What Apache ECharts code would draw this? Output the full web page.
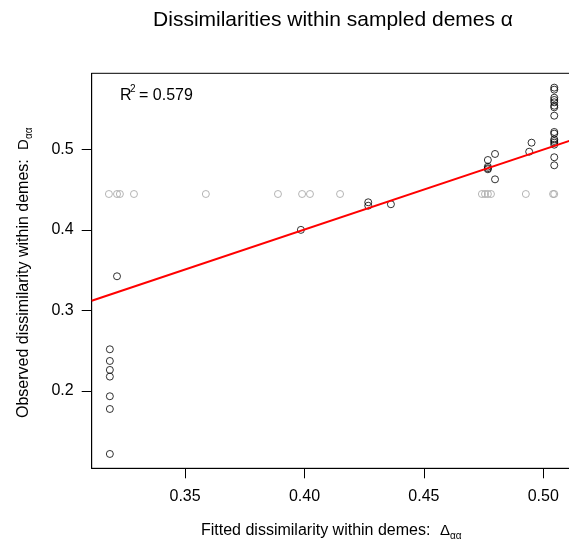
<!DOCTYPE html>
<html>
<head>
<meta charset="utf-8">
<script src="https://cdn.jsdelivr.net/npm/echarts@6/dist/echarts.min.js"></script>
<style>html,body{margin:0;padding:0;background:#fff}#c{width:569px;height:545px}</style>
</head>
<body>
<div id="c"></div>
<script>
// Data
var grayX = [0.3181, 0.3215, 0.3227, 0.3286, 0.3587, 0.3889, 0.3990, 0.4023, 0.4149, 0.4743, 0.4756, 0.4768, 0.4781, 0.4927, 0.5041, 0.5046];
var grayY = [0.4445, 0.4445, 0.4445, 0.4445, 0.4445, 0.4445, 0.4445, 0.4445, 0.4445, 0.4445, 0.4445, 0.4445, 0.4445, 0.4445, 0.4445, 0.4445];
var blackX = [0.3185, 0.3185, 0.3185, 0.3185, 0.3185, 0.3185, 0.3185,
              0.3215, 0.3985, 0.4267, 0.4267, 0.4362,
              0.4768, 0.4768, 0.4768, 0.4768, 0.4798, 0.4798,
              0.4941, 0.4951,
              0.5046, 0.5046, 0.5046, 0.5046, 0.5046, 0.5046, 0.5046, 0.5046,
              0.5046, 0.5046, 0.5046, 0.5046, 0.5046, 0.5046, 0.5046, 0.5046];
var blackY = [0.2518, 0.2373, 0.2262, 0.2179, 0.1935, 0.1777, 0.1219,
              0.3424, 0.4000, 0.4342, 0.4300, 0.4318,
              0.4867, 0.4784, 0.4765, 0.4752, 0.4942, 0.4627,
              0.4970, 0.5082,
              0.5765, 0.5740, 0.5640, 0.5612, 0.5583, 0.5541, 0.5521, 0.5417,
              0.5215, 0.5194, 0.5124, 0.5103, 0.5082, 0.5057, 0.4901, 0.4801];
// Fitted regression line endpoints (R^2 = 0.579)
var fitX = [0.3109, 0.5135];
var fitY = [0.3121, 0.5129];
var xTicks = [0.35, 0.40, 0.45, 0.50];
var yTicks = [0.2, 0.3, 0.4, 0.5];
var r2Text = '0.579';

function pairs(xs, ys) { return xs.map(function (x, i) { return [x, ys[i]]; }); }

var FONT = '"Liberation Sans", Arial, Helvetica, sans-serif';
var chart = echarts.init(document.getElementById('c'));
chart.setOption({
  animation: false,
  backgroundColor: '#fff',
  textStyle: { fontFamily: FONT },
  grid: { left: 91.7, top: 73.3, right: -6.5, bottom: 76.7, show: true, borderColor: '#000', borderWidth: 1,
          containLabel: false, outerBoundsMode: 'none' },
  xAxis: {
    type: 'value', min: 0.3109, max: 0.5135,
    axisLine: { show: true, lineStyle: { color: '#000', width: 1 } },
    axisTick: { show: true, inside: false, length: 10, customValues: xTicks, lineStyle: { color: '#000' } },
    axisLabel: { customValues: xTicks, margin: 20, color: '#000', fontSize: 16, fontFamily: FONT, formatter: function (v) { return v.toFixed(2); } },
    splitLine: { show: false }
  },
  yAxis: {
    type: 'value', min: 0.1041, max: 0.5943,
    axisLine: { show: true, lineStyle: { color: '#000', width: 1 } },
    axisTick: { show: true, inside: false, length: 10, customValues: yTicks, lineStyle: { color: '#000' } },
    axisLabel: { customValues: yTicks, margin: 18, color: '#000', fontSize: 16, fontFamily: FONT, formatter: function (v) { return v.toFixed(1); } },
    splitLine: { show: false }
  },
  series: [
    { type: 'scatter', data: pairs(grayX, grayY), symbol: 'circle', symbolSize: 7,
      itemStyle: { color: 'rgba(0,0,0,0)', borderColor: '#a3a3a3', borderWidth: 1 }, z: 2 },
    { type: 'scatter', data: pairs(blackX, blackY), symbol: 'circle', symbolSize: 7,
      itemStyle: { color: 'rgba(0,0,0,0)', borderColor: '#000', borderWidth: 1 }, z: 3 },
    { type: 'line', data: pairs(fitX, fitY), showSymbol: false, symbol: 'none', clip: true,
      lineStyle: { color: '#ff0000', width: 2 }, z: 4 }
  ],
  graphic: [
    { type: 'text', x: 333, y: 20,
      style: { text: 'Dissimilarities within sampled demes α', font: '21px ' + FONT, fill: '#000', textAlign: 'center', textVerticalAlign: 'middle' } },
    { type: 'text', x: 120, y: 96, style: { text: 'R', font: '16px ' + FONT, fill: '#000', textAlign: 'left', textVerticalAlign: 'middle' } },
    { type: 'text', x: 130, y: 89, style: { text: '2', font: '10px ' + FONT, fill: '#000', textAlign: 'left', textVerticalAlign: 'middle' } },
    { type: 'text', x: 139, y: 96, style: { text: '= ' + r2Text, font: '16px ' + FONT, fill: '#000', textAlign: 'left', textVerticalAlign: 'middle' } },
    { type: 'group', x: 333, y: 531, children: [
      { type: 'text', x: -132, y: 0, style: { text: 'Fitted dissimilarity within demes:', font: '16px ' + FONT, fill: '#000', textAlign: 'left', textVerticalAlign: 'middle' } },
      { type: 'text', x: 107, y: 0, style: { text: 'Δ', font: '15px ' + FONT, fill: '#000', textAlign: 'left', textVerticalAlign: 'middle' } },
      { type: 'text', x: 117, y: 5, style: { text: 'αα', font: '10px ' + FONT, fill: '#000', textAlign: 'left', textVerticalAlign: 'middle' } }
    ] },
    { type: 'group', x: 24, y: 272, rotation: Math.PI / 2, children: [
      { type: 'text', x: -146, y: 0, style: { text: 'Observed dissimilarity within demes:', font: '16px ' + FONT, fill: '#000', textAlign: 'left', textVerticalAlign: 'middle' } },
      { type: 'text', x: 122, y: 0, style: { text: 'D', font: '15px ' + FONT, fill: '#000', textAlign: 'left', textVerticalAlign: 'middle' } },
      { type: 'text', x: 133, y: 5, style: { text: 'αα', font: '10px ' + FONT, fill: '#000', textAlign: 'left', textVerticalAlign: 'middle' } }
    ] }
  ]
});
</script>
</body>
</html>
